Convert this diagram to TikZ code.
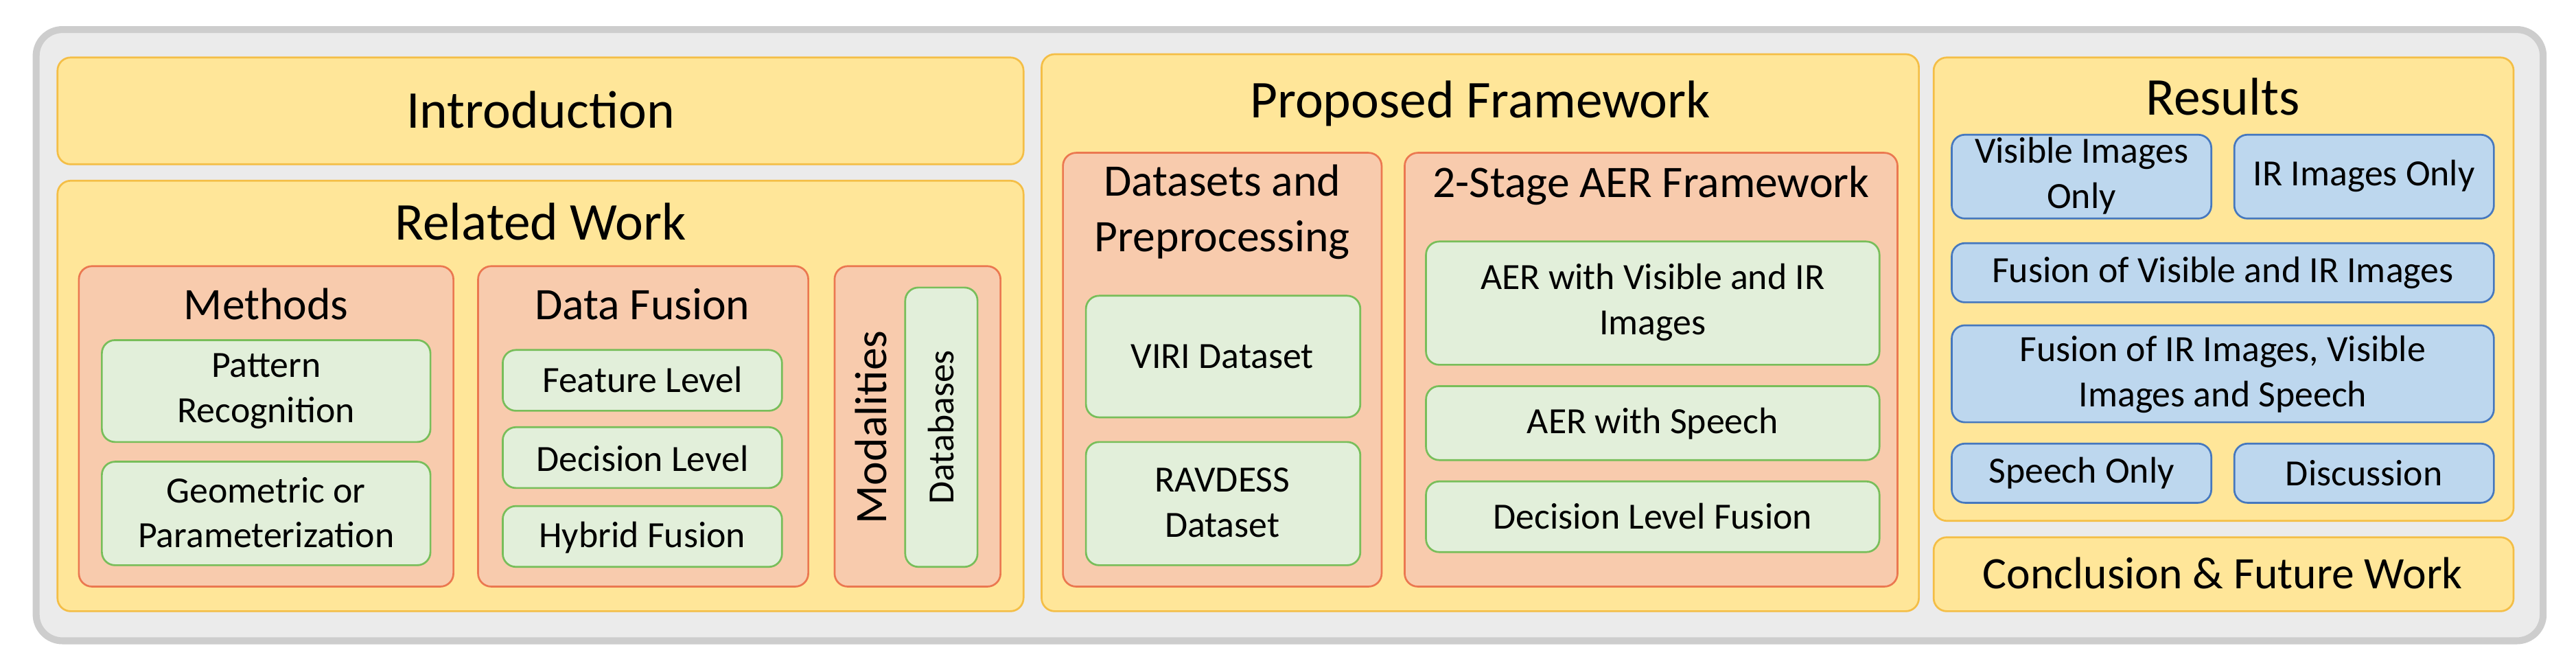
\documentclass[tikz,border=0pt]{standalone}
\usepackage{fontspec}
\setmainfont{Carlito}
\begin{document}
\begin{tikzpicture}[x=0.25mm,y=-0.25mm,
 box/.style={rounded corners=2mm,line width=0.8pt},
 yel/.style={box,fill={rgb,255:red,255;green,230;blue,153},draw={rgb,255:red,244;green,190;blue,70}},
 ora/.style={box,fill={rgb,255:red,248;green,203;blue,173},draw={rgb,255:red,235;green,120;blue,80}},
 grn/.style={box,fill={rgb,255:red,226;green,239;blue,218},draw={rgb,255:red,120;green,190;blue,90}},
 blu/.style={box,fill={rgb,255:red,189;green,215;blue,238},draw={rgb,255:red,70;green,120;blue,190}},
 big/.style={align=center,font=\fontsize{23}{26}\selectfont},
 mid/.style={align=center,font=\fontsize{19.5}{24}\selectfont},
 sm/.style={align=center,font=\fontsize{16}{19.5}\selectfont}]
\useasboundingbox (0,0) rectangle (1568,407.4);
\draw[rounded corners=4mm,fill={rgb,255:red,235;green,235;blue,235},draw={rgb,255:red,205;green,205;blue,205},line width=3pt] (22,18) rectangle (1548,390);
% Introduction
\draw[yel] (35,35) rectangle (623,100); \node[big] (intro) at (329,67) {Introduction};
\draw[yel] (35,110) rectangle (623,372); \node[big] (rw) at (329,135) {Related Work};
\draw[ora] (48,162) rectangle (276,357); \node[mid] (meth) at (162,185) {Methods};
\draw[grn] (62,207) rectangle (262,269); \node[sm] (pr) at (162,238) {Pattern\\Recognition};
\draw[grn] (62,281) rectangle (262,344); \node[sm] (geo) at (162,312) {Geometric or\\Parameterization};
\draw[ora] (291,162) rectangle (492,357); \node[mid] (df) at (391,185) {Data Fusion};
\draw[grn] (306,213) rectangle (476,250); \node[sm] (fl) at (391,231) {Feature Level};
\draw[grn] (306,260) rectangle (476,297); \node[sm] (dl) at (391,279) {Decision Level};
\draw[grn] (306,308) rectangle (476,345); \node[sm] (hf) at (391,327) {Hybrid Fusion};
\draw[ora] (508,162) rectangle (609,357); \node[mid,rotate=90] (mod) at (530,260) {Modalities};
\draw[grn] (551,175) rectangle (595,345); \node[sm,rotate=90] (db) at (573,260) {Databases};
% Proposed
\draw[yel] (634,33) rectangle (1168,372); \node[big] (pf) at (901,63) {Proposed Framework};
\draw[ora] (647,93) rectangle (841,357); \node[mid] (dp) at (744,129) {Datasets and\\Preprocessing};
\draw[grn] (661,180) rectangle (828,254); \node[sm] (viri) at (744,217) {VIRI Dataset};
\draw[grn] (661,269) rectangle (828,344); \node[sm] (rav) at (744,306) {RAVDESS\\Dataset};
\draw[ora] (855,93) rectangle (1155,357); \node[mid] (st) at (1005,113) {2-Stage AER Framework};
\draw[grn] (868,147) rectangle (1144,222); \node[sm] (av) at (1006,184) {AER with Visible and IR\\Images};
\draw[grn] (868,235) rectangle (1144,280); \node[sm] (as) at (1006,258) {AER with Speech};
\draw[grn] (868,293) rectangle (1144,336); \node[sm] (dlf) at (1006,314) {Decision Level Fusion};
% Results
\draw[yel] (1177,35) rectangle (1530,317); \node[big] (res) at (1353,59) {Results};
\draw[blu] (1188,82) rectangle (1346,133); \node[sm] (vio) at (1267,107) {Visible Images\\Only};
\draw[blu] (1360,82) rectangle (1518,133); \node[sm] (iro) at (1439,107) {IR Images Only};
\draw[blu] (1188,148) rectangle (1518,184); \node[sm] (fvi) at (1353,166) {Fusion of Visible and IR Images};
\draw[blu] (1188,198) rectangle (1518,257); \node[sm] (fivs) at (1353,228) {Fusion of IR Images, Visible\\Images and Speech};
\draw[blu] (1188,270) rectangle (1346,306); \node[sm] (so) at (1267,288) {Speech Only};
\draw[blu] (1360,270) rectangle (1518,306); \node[sm] (dis) at (1439,288) {Discussion};
\draw[yel] (1177,327) rectangle (1530,372); \node[mid] (conc) at (1353,349) {Conclusion \& Future Work};
\end{tikzpicture}
\end{document}
